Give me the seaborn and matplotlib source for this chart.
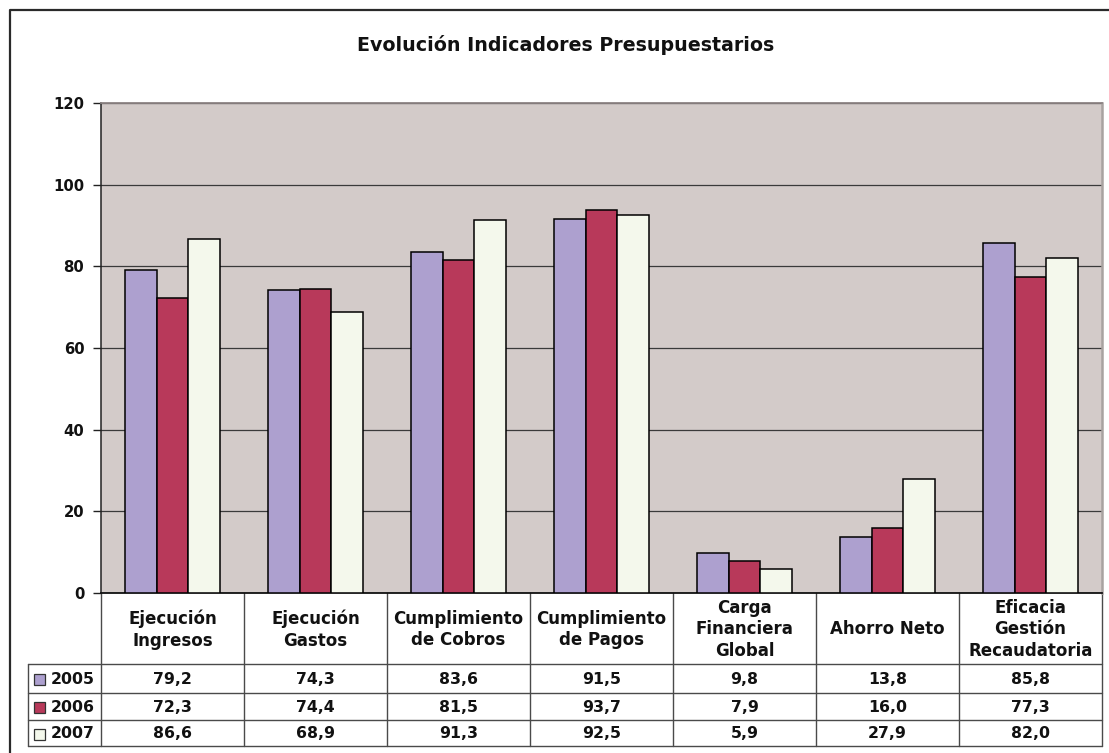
import matplotlib
matplotlib.use("Agg")
import matplotlib.pyplot as plt
import matplotlib.transforms as mtransforms
from matplotlib.lines import Line2D
from matplotlib.patches import Rectangle
import seaborn as sns
import pandas as pd

# ---------------- data ----------------
categories = ["Ejecución\nIngresos", "Ejecución\nGastos", "Cumplimiento\nde Cobros",
              "Cumplimiento\nde Pagos", "Carga\nFinanciera\nGlobal", "Ahorro Neto",
              "Eficacia\nGestión\nRecaudatoria"]
years = ["2005", "2006", "2007"]
values_2005 = [79.2, 74.3, 83.6, 91.5, 9.8, 13.8, 85.8]
values_2006 = [72.3, 74.4, 81.5, 93.7, 7.9, 16.0, 77.3]
values_2007 = [86.6, 68.9, 91.3, 92.5, 5.9, 27.9, 82.0]
title = "Evolución Indicadores Presupuestarios"
yticks = [0, 20, 40, 60, 80, 100, 120]

series = {"2005": values_2005, "2006": values_2006, "2007": values_2007}
colors = {"2005": "#ADA0CF", "2006": "#B8395A", "2007": "#F4F8EC"}

rows = []
for y in years:
    for c, v in zip(categories, series[y]):
        rows.append({"cat": c, "year": y, "value": v})
df = pd.DataFrame(rows)

# ---------------- figure ----------------
W, H = 1109, 753
sns.set_style("white")
plt.rcParams["font.family"] = ["DejaVu Sans"]
fig = plt.figure(figsize=(W / 100, H / 100), dpi=100)

def fx(px):
    return px / W

def fy(py):
    return 1 - py / H

ax_left, ax_right, ax_top, ax_bottom = 101, 1102, 103, 593
ax = fig.add_axes([fx(ax_left), fy(ax_bottom), fx(ax_right - ax_left), (ax_bottom - ax_top) / H])
ax.set_facecolor("#D3CBC9")

sns.barplot(data=df, x="cat", y="value", hue="year", order=categories, hue_order=years,
            palette=colors, width=0.67, edgecolor="black", linewidth=1.1,
            saturation=1, ax=ax, legend=False, zorder=3)

ax.set_xlim(-0.5, len(categories) - 0.5)
ax.set_ylim(0, 120)
ax.set_yticks(yticks)
ax.set_yticklabels([str(t) for t in yticks], fontsize=10.7, fontweight="bold", color="#111111")
ax.set_xticks([])
ax.set_xlabel("")
ax.set_ylabel("")
ax.tick_params(axis="y", direction="out", length=6, width=1, color="#222222", pad=6, left=True)
ax.yaxis.grid(True, color="#3A3A3A", linewidth=0.9, zorder=0)
ax.set_axisbelow(True)
ax.spines["left"].set_color("#222222")
ax.spines["left"].set_linewidth(1.1)
ax.spines["bottom"].set_color("#111111")
ax.spines["bottom"].set_linewidth(1.3)
ax.spines["top"].set_color("#8C8484")
ax.spines["top"].set_linewidth(1.3)
ax.spines["right"].set_color("#A8A2A0")
ax.spines["right"].set_linewidth(1.8)

# ---------------- title ----------------
fig.text(fx(566), fy(45), title, ha="center", va="center", fontsize=13.7,
         fontweight="bold", color="#111111")

# ---------------- outer chart border ----------------
fig.add_artist(Line2D([fx(10), fx(10), fx(W)], [fy(H), fy(10), fy(10)],
                      color="#2A2A2A", linewidth=1.6))

# ---------------- data table ----------------
line_col = "#4A4A4A"
blend = mtransforms.blended_transform_factory(ax.transData, fig.transFigure)
row_edges = [664, 693, 720, 746]
legend_left = 28

# vertical column lines
for i in range(len(categories) + 1):
    xb = i - 0.5
    ax.add_line(Line2D([xb, xb], [fy(ax_bottom), fy(row_edges[-1])], transform=blend,
                       color=line_col, linewidth=1.0, clip_on=False))
# horizontal row lines
for ry in row_edges:
    fig.add_artist(Line2D([fx(legend_left), fx(ax_right)], [fy(ry), fy(ry)],
                          color=line_col, linewidth=1.0))
fig.add_artist(Line2D([fx(legend_left), fx(legend_left)], [fy(row_edges[0]), fy(row_edges[-1])],
                      color=line_col, linewidth=1.0))

# header labels
for i, c in enumerate(categories):
    ax.text(i, fy((ax_bottom + row_edges[0]) / 2 + 1), c, transform=blend, ha="center",
            va="center", fontsize=12, fontweight="bold", color="#111111",
            linespacing=1.25, clip_on=False)

# data rows
for r, y in enumerate(years):
    top, bot = row_edges[r], row_edges[r + 1]
    cy = (top + bot) / 2
    sw = 11
    fig.add_artist(Rectangle((fx(34), fy(cy + sw / 2 + 1)), sw / W, sw / H,
                             facecolor=colors[y], edgecolor="#333333", linewidth=0.9))
    fig.text(fx(51), fy(cy + 1), y, ha="left", va="center", fontsize=11.3,
             fontweight="bold", color="#111111")
    for i, v in enumerate(series[y]):
        ax.text(i, fy(cy + 1), f"{v:.1f}".replace(".", ","), transform=blend,
                ha="center", va="center", fontsize=11.3, fontweight="bold",
                color="#111111", clip_on=False)

fig.savefig("out.png", dpi=100)
